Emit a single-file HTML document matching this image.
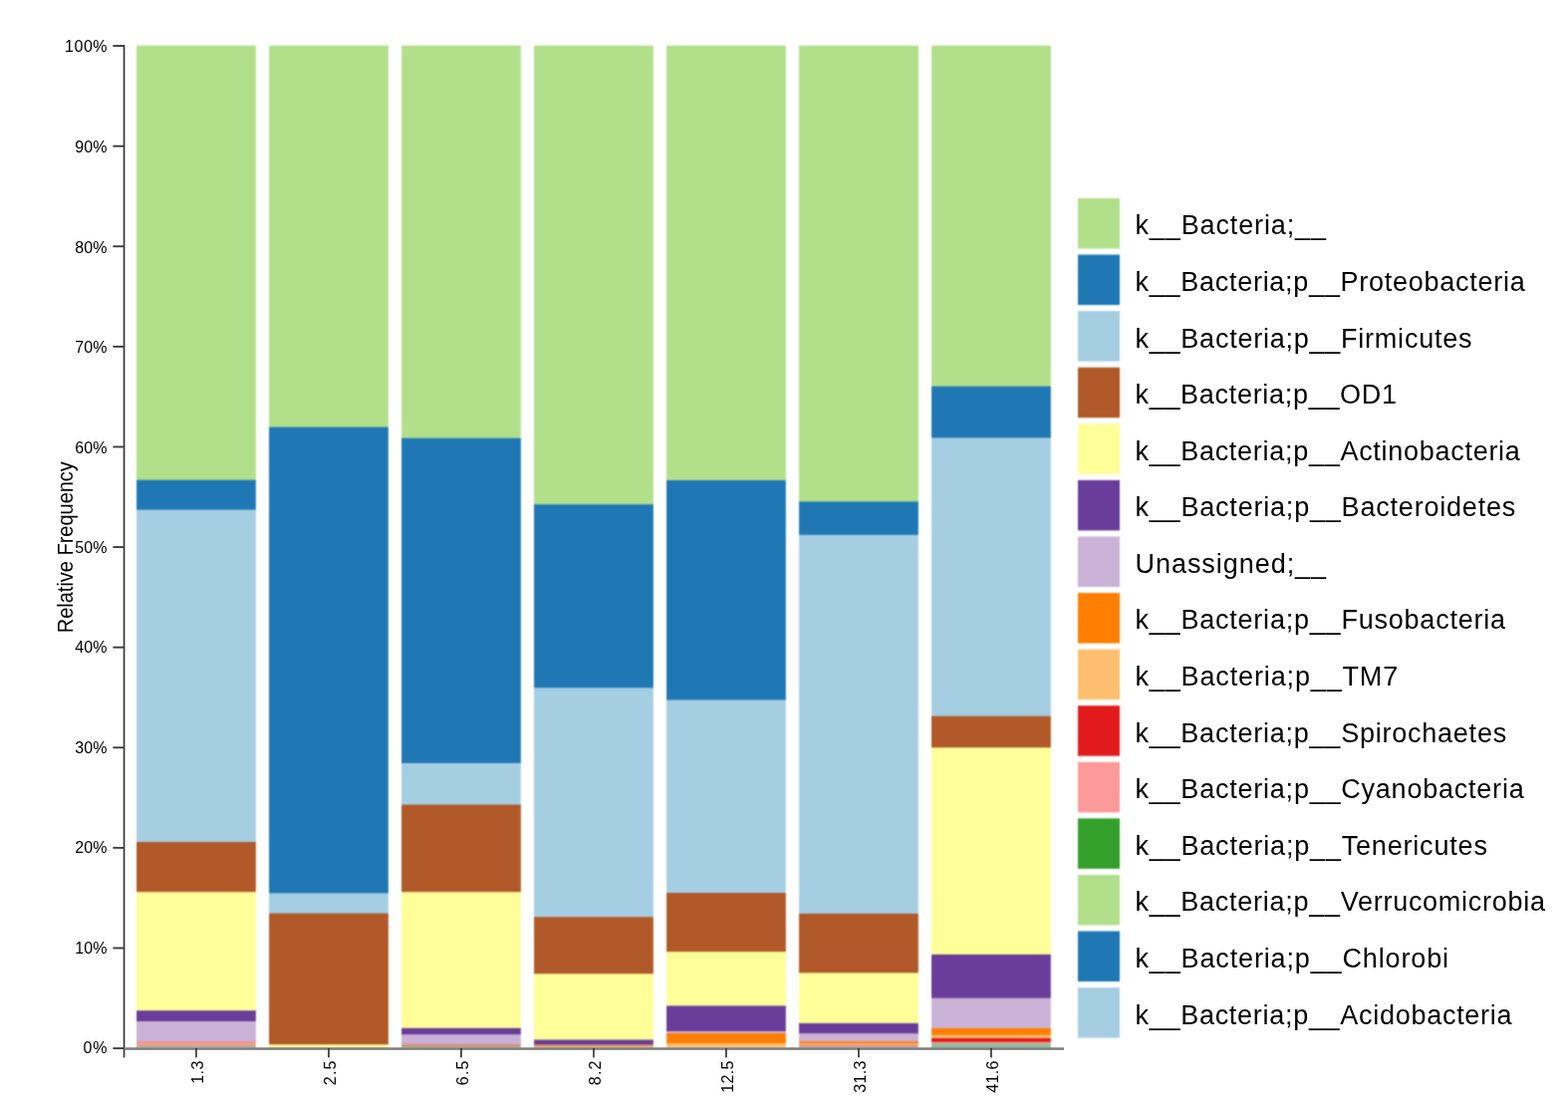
<!DOCTYPE html>
<html><head><meta charset="utf-8"><title>Relative Frequency</title>
<style>
html,body{margin:0;padding:0;background:#fff;}
svg{display:block;}
text{font-family:"Liberation Sans",Arial,sans-serif;fill:#000;}
.tk{font-size:16px;}
.lg{font-size:27px;}
</style></head><body>
<svg width="1574" height="1110" viewBox="0 0 1574 1110">
<defs><filter id="soft" x="-5%" y="-5%" width="110%" height="110%" color-interpolation-filters="sRGB"><feConvolveMatrix order="3" kernelMatrix="1 2 1 2 4 2 1 2 1" divisor="16" edgeMode="none"/></filter></defs>
<g class="bars" filter="url(#soft)">
<mask id="mb0" maskUnits="userSpaceOnUse" x="134.05" y="42.7" width="125.8" height="1012.1"><rect x="137.05" y="45.7" width="119.8" height="1006.1" fill="#fff"/></mask><g mask="url(#mb0)">
<rect x="135.05" y="43.7" width="123.8" height="1010.1" fill="#b2df8a"/>
<rect x="135.05" y="481.7" width="123.8" height="572.1" fill="#1f78b4"/>
<rect x="135.05" y="511.6" width="123.8" height="542.2" fill="#a6cee3"/>
<rect x="135.05" y="845" width="123.8" height="208.8" fill="#b15928"/>
<rect x="135.05" y="895.2" width="123.8" height="158.6" fill="#ffff99"/>
<rect x="135.05" y="1014.2" width="123.8" height="39.6" fill="#6a3d9a"/>
<rect x="135.05" y="1025" width="123.8" height="28.8" fill="#cab2d6"/>
<rect x="135.05" y="1045.3" width="123.8" height="8.5" fill="#f7927f"/>
<rect x="135.05" y="1047" width="123.8" height="6.8" fill="#fb9a99"/>
<rect x="135.05" y="1049.6" width="123.8" height="4.2" fill="#98b585"/>
</g>
<mask id="mb1" maskUnits="userSpaceOnUse" x="267.05" y="42.7" width="125.8" height="1012.1"><rect x="270.05" y="45.7" width="119.8" height="1006.1" fill="#fff"/></mask><g mask="url(#mb1)">
<rect x="268.05" y="43.7" width="123.8" height="1010.1" fill="#b2df8a"/>
<rect x="268.05" y="428.6" width="123.8" height="625.2" fill="#1f78b4"/>
<rect x="268.05" y="896.4" width="123.8" height="157.4" fill="#a6cee3"/>
<rect x="268.05" y="916.6" width="123.8" height="137.2" fill="#b15928"/>
<rect x="268.05" y="1048.3" width="123.8" height="5.5" fill="#ffff99"/>
<rect x="268.05" y="1051" width="123.8" height="2.8" fill="#c8c890"/>
</g>
<mask id="mb2" maskUnits="userSpaceOnUse" x="400.05" y="42.7" width="125.8" height="1012.1"><rect x="403.05" y="45.7" width="119.8" height="1006.1" fill="#fff"/></mask><g mask="url(#mb2)">
<rect x="401.05" y="43.7" width="123.8" height="1010.1" fill="#b2df8a"/>
<rect x="401.05" y="439.7" width="123.8" height="614.1" fill="#1f78b4"/>
<rect x="401.05" y="765.9" width="123.8" height="287.9" fill="#a6cee3"/>
<rect x="401.05" y="807.6" width="123.8" height="246.2" fill="#b15928"/>
<rect x="401.05" y="895.2" width="123.8" height="158.6" fill="#ffff99"/>
<rect x="401.05" y="1031.8" width="123.8" height="22" fill="#6a3d9a"/>
<rect x="401.05" y="1038.2" width="123.8" height="15.6" fill="#cab2d6"/>
<rect x="401.05" y="1047.5" width="123.8" height="6.3" fill="#dc98a0"/>
<rect x="401.05" y="1048.7" width="123.8" height="5.1" fill="#dc8c70"/>
<rect x="401.05" y="1050" width="123.8" height="3.8" fill="#a0b080"/>
</g>
<mask id="mb3" maskUnits="userSpaceOnUse" x="533.05" y="42.7" width="125.8" height="1012.1"><rect x="536.05" y="45.7" width="119.8" height="1006.1" fill="#fff"/></mask><g mask="url(#mb3)">
<rect x="534.05" y="43.7" width="123.8" height="1010.1" fill="#b2df8a"/>
<rect x="534.05" y="506.2" width="123.8" height="547.6" fill="#1f78b4"/>
<rect x="534.05" y="690.3" width="123.8" height="363.5" fill="#a6cee3"/>
<rect x="534.05" y="920.3" width="123.8" height="133.5" fill="#b15928"/>
<rect x="534.05" y="977.3" width="123.8" height="76.5" fill="#ffff99"/>
<rect x="534.05" y="1043.5" width="123.8" height="10.3" fill="#6a3d9a"/>
<rect x="534.05" y="1048.5" width="123.8" height="5.3" fill="#e4a068"/>
</g>
<mask id="mb4" maskUnits="userSpaceOnUse" x="666.05" y="42.7" width="125.8" height="1012.1"><rect x="669.05" y="45.7" width="119.8" height="1006.1" fill="#fff"/></mask><g mask="url(#mb4)">
<rect x="667.05" y="43.7" width="123.8" height="1010.1" fill="#b2df8a"/>
<rect x="667.05" y="482" width="123.8" height="571.8" fill="#1f78b4"/>
<rect x="667.05" y="702.5" width="123.8" height="351.3" fill="#a6cee3"/>
<rect x="667.05" y="896.1" width="123.8" height="157.7" fill="#b15928"/>
<rect x="667.05" y="955.2" width="123.8" height="98.6" fill="#ffff99"/>
<rect x="667.05" y="1009.4" width="123.8" height="44.4" fill="#6a3d9a"/>
<rect x="667.05" y="1035" width="123.8" height="18.8" fill="#cab2d6"/>
<rect x="667.05" y="1037" width="123.8" height="16.8" fill="#ff7f00"/>
<rect x="667.05" y="1047.1" width="123.8" height="6.7" fill="#fdbf6f"/>
</g>
<mask id="mb5" maskUnits="userSpaceOnUse" x="799.05" y="42.7" width="125.8" height="1012.1"><rect x="802.05" y="45.7" width="119.8" height="1006.1" fill="#fff"/></mask><g mask="url(#mb5)">
<rect x="800.05" y="43.7" width="123.8" height="1010.1" fill="#b2df8a"/>
<rect x="800.05" y="503.4" width="123.8" height="550.4" fill="#1f78b4"/>
<rect x="800.05" y="536.8" width="123.8" height="517" fill="#a6cee3"/>
<rect x="800.05" y="916.9" width="123.8" height="136.9" fill="#b15928"/>
<rect x="800.05" y="976.4" width="123.8" height="77.4" fill="#ffff99"/>
<rect x="800.05" y="1026.9" width="123.8" height="26.9" fill="#6a3d9a"/>
<rect x="800.05" y="1037.2" width="123.8" height="16.6" fill="#cab2d6"/>
<rect x="800.05" y="1045.2" width="123.8" height="8.6" fill="#ff7f00"/>
<rect x="800.05" y="1047" width="123.8" height="6.8" fill="#fbb07a"/>
<rect x="800.05" y="1048.4" width="123.8" height="5.4" fill="#f29090"/>
<rect x="800.05" y="1050.1" width="123.8" height="3.7" fill="#a0b080"/>
</g>
<mask id="mb6" maskUnits="userSpaceOnUse" x="932.05" y="42.7" width="125.8" height="1012.1"><rect x="935.05" y="45.7" width="119.8" height="1006.1" fill="#fff"/></mask><g mask="url(#mb6)">
<rect x="933.05" y="43.7" width="123.8" height="1010.1" fill="#b2df8a"/>
<rect x="933.05" y="387.7" width="123.8" height="666.1" fill="#1f78b4"/>
<rect x="933.05" y="439.4" width="123.8" height="614.4" fill="#a6cee3"/>
<rect x="933.05" y="718.7" width="123.8" height="335.1" fill="#b15928"/>
<rect x="933.05" y="750.3" width="123.8" height="303.5" fill="#ffff99"/>
<rect x="933.05" y="957.9" width="123.8" height="95.9" fill="#6a3d9a"/>
<rect x="933.05" y="1001.7" width="123.8" height="52.1" fill="#cab2d6"/>
<rect x="933.05" y="1031.9" width="123.8" height="21.9" fill="#ff7f00"/>
<rect x="933.05" y="1038.8" width="123.8" height="15" fill="#fdbf6f"/>
<rect x="933.05" y="1041.9" width="123.8" height="11.9" fill="#e31a1c"/>
<rect x="933.05" y="1045.7" width="123.8" height="8.1" fill="#fb9a99"/>
<rect x="933.05" y="1047.3" width="123.8" height="6.5" fill="#8cc48e"/>
<rect x="933.05" y="1050" width="123.8" height="3.8" fill="#8aaab8"/>
</g>
</g>
<g class="yaxis">
<rect x="113.4" y="1051.15" width="11.2" height="1.9" fill="#3c3c3c"/>
<text class="tk" x="107.6" y="1057.3" text-anchor="end" textLength="24" lengthAdjust="spacing">0%</text>
<rect x="113.4" y="950.54" width="11.2" height="1.9" fill="#3c3c3c"/>
<text class="tk" x="107.6" y="956.59" text-anchor="end" textLength="32.3" lengthAdjust="spacing">10%</text>
<rect x="113.4" y="849.94" width="11.2" height="1.9" fill="#3c3c3c"/>
<text class="tk" x="107.6" y="856.09" text-anchor="end" textLength="32.3" lengthAdjust="spacing">20%</text>
<rect x="113.4" y="749.33" width="11.2" height="1.9" fill="#3c3c3c"/>
<text class="tk" x="107.6" y="755.59" text-anchor="end" textLength="32.3" lengthAdjust="spacing">30%</text>
<rect x="113.4" y="648.73" width="11.2" height="1.9" fill="#3c3c3c"/>
<text class="tk" x="107.6" y="655.28" text-anchor="end" textLength="32.3" lengthAdjust="spacing">40%</text>
<rect x="113.4" y="548.12" width="11.2" height="1.9" fill="#3c3c3c"/>
<text class="tk" x="107.6" y="554.77" text-anchor="end" textLength="32.3" lengthAdjust="spacing">50%</text>
<rect x="113.4" y="447.52" width="11.2" height="1.9" fill="#3c3c3c"/>
<text class="tk" x="107.6" y="455.17" text-anchor="end" textLength="32.3" lengthAdjust="spacing">60%</text>
<rect x="113.4" y="346.92" width="11.2" height="1.9" fill="#3c3c3c"/>
<text class="tk" x="107.6" y="354.26" text-anchor="end" textLength="32.3" lengthAdjust="spacing">70%</text>
<rect x="113.4" y="246.31" width="11.2" height="1.9" fill="#3c3c3c"/>
<text class="tk" x="107.6" y="253.76" text-anchor="end" textLength="32.3" lengthAdjust="spacing">80%</text>
<rect x="113.4" y="145.7" width="11.2" height="1.9" fill="#3c3c3c"/>
<text class="tk" x="107.6" y="153.25" text-anchor="end" textLength="32.3" lengthAdjust="spacing">90%</text>
<rect x="113.4" y="45.1" width="11.2" height="1.9" fill="#3c3c3c"/>
<text class="tk" x="107.6" y="52.45" text-anchor="end" textLength="42.6" lengthAdjust="spacing">100%</text>
<rect x="123.7" y="45.1" width="1.7" height="1016.3" fill="#383838"/>
<text x="72.8" y="549.2" transform="rotate(-90 72.8 549.2)" text-anchor="middle" textLength="172" lengthAdjust="spacingAndGlyphs" style="font-size:21.5px">Relative Frequency</text>
</g>
<g class="xaxis">
<rect x="124.6" y="1051.3" width="943.4" height="2.5" fill="#7d7d7d"/>
<rect x="196.1" y="1052" width="1.7" height="9.4" fill="#383838"/>
<text class="tk" transform="translate(203.95,1064.6) rotate(-90)" text-anchor="end" textLength="23.24" lengthAdjust="spacing">1.3</text>
<rect x="329.1" y="1052" width="1.7" height="9.4" fill="#383838"/>
<text class="tk" transform="translate(336.95,1064.6) rotate(-90)" text-anchor="end" textLength="24.54" lengthAdjust="spacing">2.5</text>
<rect x="462.1" y="1052" width="1.7" height="9.4" fill="#383838"/>
<text class="tk" transform="translate(469.95,1064.6) rotate(-90)" text-anchor="end" textLength="24.54" lengthAdjust="spacing">6.5</text>
<rect x="595.1" y="1052" width="1.7" height="9.4" fill="#383838"/>
<text class="tk" transform="translate(602.95,1064.6) rotate(-90)" text-anchor="end" textLength="24.54" lengthAdjust="spacing">8.2</text>
<rect x="728.1" y="1052" width="1.7" height="9.4" fill="#383838"/>
<text class="tk" transform="translate(735.95,1064.6) rotate(-90)" text-anchor="end" textLength="32.14" lengthAdjust="spacing">12.5</text>
<rect x="861.1" y="1052" width="1.7" height="9.4" fill="#383838"/>
<text class="tk" transform="translate(868.95,1064.6) rotate(-90)" text-anchor="end" textLength="32.14" lengthAdjust="spacing">31.3</text>
<rect x="994.1" y="1052" width="1.7" height="9.4" fill="#383838"/>
<text class="tk" transform="translate(1001.95,1064.6) rotate(-90)" text-anchor="end" textLength="32.14" lengthAdjust="spacing">41.6</text>
</g>
<g class="legend-sw" filter="url(#soft)">
<rect x="1082" y="199" width="42" height="50.5" fill="#b2df8a"/>
<rect x="1082" y="255.58" width="42" height="50.5" fill="#1f78b4"/>
<rect x="1082" y="312.16" width="42" height="50.5" fill="#a6cee3"/>
<rect x="1082" y="368.74" width="42" height="50.5" fill="#b15928"/>
<rect x="1082" y="425.32" width="42" height="50.5" fill="#ffff99"/>
<rect x="1082" y="481.9" width="42" height="50.5" fill="#6a3d9a"/>
<rect x="1082" y="538.48" width="42" height="50.5" fill="#cab2d6"/>
<rect x="1082" y="595.06" width="42" height="50.5" fill="#ff7f00"/>
<rect x="1082" y="651.64" width="42" height="50.5" fill="#fdbf6f"/>
<rect x="1082" y="708.22" width="42" height="50.5" fill="#e31a1c"/>
<rect x="1082" y="764.8" width="42" height="50.5" fill="#fb9a99"/>
<rect x="1082" y="821.38" width="42" height="50.5" fill="#33a02c"/>
<rect x="1082" y="877.96" width="42" height="50.5" fill="#b2df8a"/>
<rect x="1082" y="934.54" width="42" height="50.5" fill="#1f78b4"/>
<rect x="1082" y="991.12" width="42" height="50.5" fill="#a6cee3"/>
</g>
<g class="legend">
<text class="lg" x="1139.5" y="235.4" textLength="191.54" lengthAdjust="spacing">k__Bacteria;__</text>
<text class="lg" x="1139.5" y="291.98" textLength="391.26" lengthAdjust="spacing">k__Bacteria;p__Proteobacteria</text>
<text class="lg" x="1139.5" y="348.56" textLength="337.97" lengthAdjust="spacing">k__Bacteria;p__Firmicutes</text>
<text class="lg" x="1139.5" y="405.14" textLength="262.52" lengthAdjust="spacing">k__Bacteria;p__OD1</text>
<text class="lg" x="1139.5" y="461.72" textLength="386.33" lengthAdjust="spacing">k__Bacteria;p__Actinobacteria</text>
<text class="lg" x="1139.5" y="518.3" textLength="381.8" lengthAdjust="spacing">k__Bacteria;p__Bacteroidetes</text>
<text class="lg" x="1139.5" y="574.88" textLength="191.62" lengthAdjust="spacing">Unassigned;__</text>
<text class="lg" x="1139.5" y="631.46" textLength="371.57" lengthAdjust="spacing">k__Bacteria;p__Fusobacteria</text>
<text class="lg" x="1139.5" y="688.04" textLength="263.75" lengthAdjust="spacing">k__Bacteria;p__TM7</text>
<text class="lg" x="1139.5" y="744.62" textLength="372.67" lengthAdjust="spacing">k__Bacteria;p__Spirochaetes</text>
<text class="lg" x="1139.5" y="801.2" textLength="390.18" lengthAdjust="spacing">k__Bacteria;p__Cyanobacteria</text>
<text class="lg" x="1139.5" y="857.78" textLength="353.38" lengthAdjust="spacing">k__Bacteria;p__Tenericutes</text>
<text class="lg" x="1139.5" y="914.36" textLength="411.53" lengthAdjust="spacing">k__Bacteria;p__Verrucomicrobia</text>
<text class="lg" x="1139.5" y="970.94" textLength="314.51" lengthAdjust="spacing">k__Bacteria;p__Chlorobi</text>
<text class="lg" x="1139.5" y="1027.52" textLength="378.02" lengthAdjust="spacing">k__Bacteria;p__Acidobacteria</text>
</g>
</svg>
</body></html>
